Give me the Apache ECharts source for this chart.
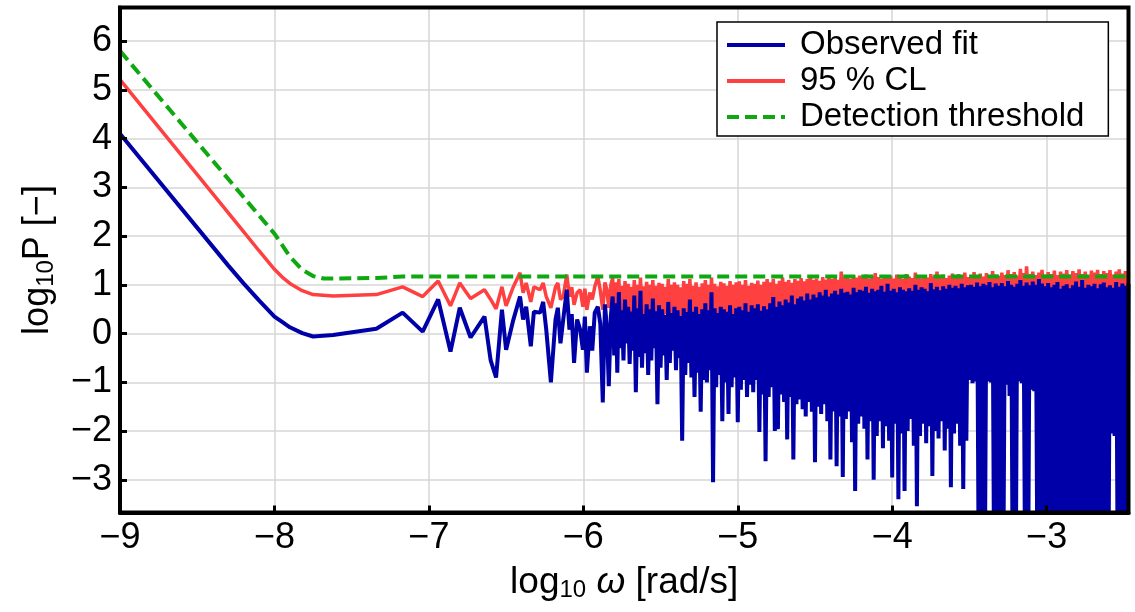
<!DOCTYPE html>
<html>
<head>
<meta charset="utf-8">
<script src="https://cdn.jsdelivr.net/npm/echarts@6.0.0/dist/echarts.min.js"></script>
<style>
  html, body { margin: 0; padding: 0; background: #fff; }
  #chart { width: 1135px; height: 612px; }
</style>
</head>
<body>
<div id="chart"></div>
<script>
// log10 omega for the sparse low-frequency part (shared by fit and CL)
var omegaSparse = [
  -9.00, -8.30, -8.20, -8.10, -8.00, -7.95, -7.90, -7.82, -7.75, -7.62, -7.34,
  -7.17, -7.04, -6.94, -6.86, -6.80, -6.73, -6.64, -6.60, -6.565, -6.527,
  -6.50, -6.456, -6.41, -6.39, -6.37, -6.34, -6.32, -6.28, -6.26, -6.24,
  -6.21, -6.18, -6.165, -6.148, -6.13, -6.107, -6.09, -6.075, -6.06, -6.04,
  -6.02, -6.003, -5.99, -5.977, -5.958, -5.942, -5.926, -5.906, -5.89, -5.874,
  -5.86, -5.848, -5.835, -5.822, -5.81
];
var fitSparse = [
  4.10, 1.40, 1.03, 0.68, 0.35, 0.24, 0.13, 0.01, -0.06, -0.03, 0.10,
  0.43, 0.04, 0.70, -0.37, 0.53, -0.08, 0.35, -0.55, -0.90, 0.49,
  -0.33, 0.25, 0.76, 0.29, 0.55, -0.26, 0.45, 0.43, 0.65, 0.08,
  -1.00, 0.29, 0.53, -0.20, 0.29, 0.90, 0.08, 0.40, -0.60, 0.29,
  0.08, -0.33, 0.35, -0.80, 0.15, -0.35, 0.43, 0.55, 0.20, -1.41,
  0.60, 0.15, -1.08, 0.35, 0.76
];
var clSparse = [
  5.21, 2.48, 2.09, 1.70, 1.32, 1.16, 1.03, 0.88, 0.80, 0.77, 0.80,
  0.96, 0.76, 1.08, 0.57, 1.04, 0.72, 0.90, 0.70, 0.51, 0.96,
  0.57, 0.94, 1.25, 0.84, 1.04, 0.65, 0.96, 0.90, 1.04, 0.76,
  0.53, 0.96, 1.04, 0.70, 0.76, 1.21, 0.76, 0.95, 0.59, 0.84,
  0.90, 0.55, 0.92, 0.49, 0.84, 0.70, 0.96, 1.17, 0.88, 0.49,
  1.05, 0.90, 0.53, 1.00, 1.14
];

// dense high-frequency part
var omegaDense = [
  -5.80,-5.79,-5.78,-5.77,-5.76,-5.75,-5.74,-5.73,-5.72,-5.71,
  -5.70,-5.69,-5.68,-5.67,-5.66,-5.65,-5.64,-5.63,-5.62,-5.61,
  -5.60,-5.59,-5.58,-5.57,-5.56,-5.55,-5.54,-5.53,-5.52,-5.51,
  -5.50,-5.49,-5.48,-5.47,-5.46,-5.45,-5.44,-5.43,-5.42,-5.41,
  -5.40,-5.39,-5.38,-5.37,-5.36,-5.35,-5.34,-5.33,-5.32,-5.31,
  -5.30,-5.29,-5.28,-5.27,-5.26,-5.25,-5.24,-5.23,-5.22,-5.21,
  -5.20,-5.19,-5.18,-5.17,-5.16,-5.15,-5.14,-5.13,-5.12,-5.11,
  -5.10,-5.09,-5.08,-5.07,-5.06,-5.05,-5.04,-5.03,-5.02,-5.01,
  -5.00,-4.99,-4.98,-4.97,-4.96,-4.95,-4.94,-4.93,-4.92,-4.91,
  -4.90,-4.89,-4.88,-4.87,-4.86,-4.85,-4.84,-4.83,-4.82,-4.81,
  -4.80,-4.79,-4.78,-4.77,-4.76,-4.75,-4.74,-4.73,-4.72,-4.71,
  -4.70,-4.69,-4.68,-4.67,-4.66,-4.65,-4.64,-4.63,-4.62,-4.61,
  -4.60,-4.59,-4.58,-4.57,-4.56,-4.55,-4.54,-4.53,-4.52,-4.51,
  -4.50,-4.49,-4.48,-4.47,-4.46,-4.45,-4.44,-4.43,-4.42,-4.41,
  -4.40,-4.39,-4.38,-4.37,-4.36,-4.35,-4.34,-4.33,-4.32,-4.31,
  -4.30,-4.29,-4.28,-4.27,-4.26,-4.25,-4.24,-4.23,-4.22,-4.21,
  -4.20,-4.19,-4.18,-4.17,-4.16,-4.15,-4.14,-4.13,-4.12,-4.11,
  -4.10,-4.09,-4.08,-4.07,-4.06,-4.05,-4.04,-4.03,-4.02,-4.01,
  -4.00,-3.99,-3.98,-3.97,-3.96,-3.95,-3.94,-3.93,-3.92,-3.91,
  -3.90,-3.89,-3.88,-3.87,-3.86,-3.85,-3.84,-3.83,-3.82,-3.81,
  -3.80,-3.79,-3.78,-3.77,-3.76,-3.75,-3.74,-3.73,-3.72,-3.71,
  -3.70,-3.69,-3.68,-3.67,-3.66,-3.65,-3.64,-3.63,-3.62,-3.61,
  -3.60,-3.59,-3.58,-3.57,-3.56,-3.55,-3.54,-3.53,-3.52,-3.51,
  -3.50,-3.49,-3.48,-3.47,-3.46,-3.45,-3.44,-3.43,-3.42,-3.41,
  -3.40,-3.39,-3.38,-3.37,-3.36,-3.35,-3.34,-3.33,-3.32,-3.31,
  -3.30,-3.29,-3.28,-3.27,-3.26,-3.25,-3.24,-3.23,-3.22,-3.21,
  -3.20,-3.19,-3.18,-3.17,-3.16,-3.15,-3.14,-3.13,-3.12,-3.11,
  -3.10,-3.09,-3.08,-3.07,-3.06,-3.05,-3.04,-3.03,-3.02,-3.01,
  -3.00,-2.99,-2.98,-2.97,-2.96,-2.95,-2.94,-2.93,-2.92,-2.91,
  -2.90,-2.89,-2.88,-2.87,-2.86,-2.85,-2.84,-2.83,-2.82,-2.81,
  -2.80,-2.79,-2.78,-2.77,-2.76,-2.75,-2.74,-2.73,-2.72,-2.71,
  -2.70,-2.69,-2.68,-2.67,-2.66,-2.65,-2.64,-2.63,-2.62,-2.61,
  -2.60,-2.59,-2.58,-2.57,-2.56,-2.55,-2.54,-2.53,-2.52,-2.51,
  -2.50,-2.49,-2.48,-2.47
];
var fitDense = [
  -0.45, 0.62, -0.80, 0.85, -0.30, 0.48, -0.55, 0.70, -0.20, 0.55,
  -0.62, 0.45, -0.35, 0.78, -1.20, 0.52, -0.48, 0.88, -0.70, 0.40,
  -0.40, 0.60, -0.85, 0.50, -0.55, 0.72, -0.30, 0.46, -1.45, 0.58,
  -0.70, 0.50, -0.45, 0.38, -0.95, 0.65, -0.60, 0.42, -0.35, 0.55,
  -0.75, 0.48, -0.50, 0.36, -2.20, 0.52, -0.85, 0.44, -0.60, 0.70,
  -0.90, 0.45, -1.30, 0.55, -0.80, 0.40, -1.60, 0.50, -0.95, 0.62,
  -1.00, 0.48, -0.75, 0.85, -3.05, 0.52, -1.10, 0.42, -0.85, 0.55,
  -1.80, 0.50, -1.00, 0.45, -1.65, 0.58, -1.10, 0.40, -0.90, 0.52,
  -1.82, 0.55, -1.15, 0.48, -0.95, 0.62, -1.30, 0.45, -1.05, 0.58,
  -1.20, 0.52, -0.95, 0.60, -2.02, 0.47, -1.25, 0.56, -2.62, 0.50,
  -1.30, 0.62, -1.10, 0.75, -2.00, 0.55, -1.96, 0.66, -1.25, 0.58,
  -1.40, 0.70, -2.17, 0.64, -1.30, 0.78, -2.58, 0.60, -1.45, 0.72,
  -1.35, 0.76, -1.55, 0.68, -1.70, 0.82, -1.40, 0.70, -1.60, 0.80,
  -2.64, 0.74, -1.50, 0.85, -1.65, 0.78, -1.45, 0.90, -1.80, 0.76,
  -2.58, 0.82, -1.60, 0.88, -2.72, 0.80, -1.70, 0.92, -2.94, 0.84,
  -1.75, 0.86, -1.60, 0.80, -2.23, 0.94, -3.23, 0.85, -1.85, 0.90,
  -1.70, 0.88, -1.95, 0.96, -2.58, 0.84, -1.80, 0.92, -3.00, 0.87,
  -2.10, 0.90, -1.80, 0.98, -2.35, 0.86, -1.90, 1.02, -2.20, 0.88,
  -2.95, 0.92, -1.85, 0.85, -3.40, 0.95, -2.05, 0.90, -3.23, 0.87,
  -2.00, 0.93, -1.75, 0.88, -2.30, 1.00, -3.54, 0.90, -2.10, 0.95,
  -1.85, 0.92, -2.25, 0.87, -1.90, 1.04, -2.92, 0.91, -2.00, 0.96,
  -2.15, 0.89, -1.80, 0.97, -2.40, 0.92, -1.95, 1.00, -3.15, 0.94,
  -2.05, 0.98, -1.85, 0.93, -2.30, 1.02, -3.19, 0.95, -2.20, 0.99,
  -0.95, 1.00, -1.02, 0.96, -0.98, 1.05, -4.80, 0.97, -5.20, 1.02,
  -4.90, 0.99, -0.98, 1.06, -1.00, 0.95, -5.10, 1.03, -4.60, 0.98,
  -5.30, 1.04, -4.70, 0.97, -1.05, 1.08, -1.28, 1.00, -4.90, 0.96,
  -5.00, 1.02, -0.98, 1.10, -1.02, 0.98, -4.80, 1.05, -5.20, 0.99,
  -1.15, 1.07, -1.18, 1.00, -4.90, 1.12, -5.40, 1.03, -4.70, 0.97,
  -5.10, 1.04, -4.80, 0.95, -5.30, 1.00, -4.60, 1.06, -5.00, 0.92,
  -4.90, 0.98, -5.20, 1.01, -4.70, 0.93, -5.10, 0.99, -4.80, 1.07,
  -5.30, 0.96, -4.90, 1.10, -5.00, 0.94, -4.70, 1.00, -5.20, 0.97,
  -4.80, 1.02, -5.10, 0.93, -4.60, 1.01, -5.00, 1.05, -4.90, 0.95,
  -5.20, 0.99, -2.05, 0.94, -2.10, 1.06, -4.80, 0.96, -5.00, 1.03,
  -4.90, 0.98, -5.10, 1.02
];
var clDense = [
  0.40, 1.05, 0.45, 1.12, 0.38, 0.98, 0.42, 1.08, 0.35, 1.02,
  0.40, 0.96, 0.44, 1.10, 0.36, 1.00, 0.42, 1.15, 0.38, 0.97,
  0.40, 1.06, 0.36, 1.00, 0.42, 1.10, 0.38, 0.98, 0.35, 1.04,
  0.38, 1.02, 0.36, 0.96, 0.40, 1.12, 0.37, 1.00, 0.34, 1.05,
  0.38, 1.00, 0.36, 0.95, 0.34, 1.08, 0.39, 1.02, 0.37, 1.12,
  0.40, 0.98, 0.36, 1.05, 0.38, 0.96, 0.35, 1.03, 0.40, 1.10,
  0.38, 1.00, 0.42, 1.15, 0.36, 1.02, 0.38, 0.97, 0.40, 1.06,
  0.36, 1.03, 0.40, 0.98, 0.38, 1.08, 0.35, 1.00, 0.40, 1.05,
  0.42, 1.07, 0.38, 1.00, 0.44, 1.10, 0.40, 0.98, 0.42, 1.04,
  0.45, 1.02, 0.42, 1.09, 0.46, 1.00, 0.44, 1.06, 0.48, 1.12,
  0.50, 1.05, 0.55, 1.12, 0.52, 1.02, 0.56, 1.08, 0.54, 1.15,
  0.58, 1.06, 0.55, 1.10, 0.60, 1.04, 0.57, 1.12, 0.60, 1.08,
  0.62, 1.14, 0.60, 1.07, 0.64, 1.12, 0.61, 1.18, 0.65, 1.10,
  0.64, 1.13, 0.66, 1.08, 0.63, 1.16, 0.67, 1.11, 0.65, 1.20,
  0.68, 1.12, 0.66, 1.17, 0.70, 1.10, 0.68, 1.27, 0.70, 1.14,
  0.70, 1.18, 0.72, 1.12, 0.70, 1.20, 0.73, 1.15, 0.71, 1.19,
  0.72, 1.14, 0.74, 1.21, 0.72, 1.13, 0.75, 1.18, 0.73, 1.24,
  0.74, 1.16, 0.75, 1.12, 0.73, 1.20, 0.76, 1.15, 0.74, 1.19,
  0.75, 1.13, 0.73, 1.21, 0.76, 1.16, 0.74, 1.12, 0.77, 1.22,
  0.75, 1.17, 0.77, 1.14, 0.74, 1.25, 0.76, 1.16, 0.78, 1.13,
  0.76, 1.20, 0.74, 1.15, 0.77, 1.22, 0.75, 1.17, 0.78, 1.27,
  0.76, 1.16, 0.78, 1.21, 0.75, 1.14, 0.77, 1.19, 0.79, 1.23,
  0.77, 1.15, 0.78, 1.22, 0.76, 1.18, 0.79, 1.25, 0.77, 1.16,
  0.78, 1.20, 0.80, 1.26, 0.77, 1.18, 0.81, 1.23, 0.79, 1.17,
  0.80, 1.24, 0.78, 1.19, 0.81, 1.28, 0.79, 1.21, 0.82, 1.18,
  0.80, 1.25, 0.82, 1.20, 0.79, 1.30, 0.81, 1.22, 0.83, 1.26,
  0.81, 1.19, 0.80, 1.33, 0.82, 1.24, 0.80, 1.38, 0.83, 1.22,
  0.81, 1.27, 0.83, 1.20, 0.80, 1.25, 0.82, 1.31, 0.81, 1.21,
  0.83, 1.26, 0.81, 1.22, 0.84, 1.29, 0.82, 1.20, 0.83, 1.27,
  0.82, 1.23, 0.84, 1.30, 0.81, 1.21, 0.83, 1.28, 0.82, 1.24,
  0.84, 1.32, 0.82, 1.22, 0.85, 1.27, 0.83, 1.20, 0.84, 1.29,
  0.83, 1.25, 0.85, 1.31, 0.82, 1.22, 0.84, 1.28, 0.83, 1.24,
  0.85, 1.30, 0.83, 1.21, 0.84, 1.27, 0.82, 1.32, 0.85, 1.23,
  0.84, 1.28, 0.83, 1.25
];

var thresholdOmega = [-9.00, -8.00, -7.90, -7.82, -7.75, -7.68, -7.34, -7.17, -2.47];
var thresholdLevel = [5.80, 2.05, 1.58, 1.31, 1.18, 1.13, 1.14, 1.17, 1.17];

var FONT = '"Liberation Sans", Arial, Helvetica, sans-serif';
var BLUE = '#0000a8', RED = '#ff4040', GREEN = '#10a810';

function toPairs(xs, ys) {
  return xs.map(function (x, i) { return [x, ys[i]]; });
}
function minusSign(v) {
  return String(v).replace('-', '\u2212');
}

var omegaAll = omegaSparse.concat(omegaDense);
var fitAll = fitSparse.concat(fitDense);
var clAll = clSparse.concat(clDense);

var xMin = -9, xMax = -2.47;
var yMin = -3.67, yMax = 6.69;

var chart = echarts.init(document.getElementById('chart'));

var option = {
  animation: false,
  backgroundColor: '#fff',
  tooltip: { show: false },
  grid: {
    left: 120, right: 6.5, top: 7.5, bottom: 99.5,
    show: true, borderColor: '#000', borderWidth: 4, z: 5,
    backgroundColor: 'transparent',
    outerBoundsMode: 'none'
  },
  legend: {
    orient: 'vertical',
    left: 717, top: 22,
    padding: [5, 24, 1, 8],
    itemGap: 0, itemWidth: 58, itemHeight: 14,
    backgroundColor: '#fff', borderColor: '#000', borderWidth: 1.5,
    z: 8,
    itemStyle: { opacity: 0 },
    lineStyle: { width: 4 },
    textStyle: { fontFamily: FONT, fontSize: 33, color: '#000', lineHeight: 36, padding: [0, 0, 0, 10] },
    data: ['Observed fit', '95 % CL', 'Detection threshold']
  },
  xAxis: [
    {
      type: 'value', position: 'bottom', min: xMin, max: xMax, interval: 1, z: 6,
      axisLine: { show: true, onZero: false, lineStyle: { color: '#000', width: 4 } },
      axisTick: { show: true, inside: true, length: 7, lineStyle: { color: '#000', width: 3 } },
      axisLabel: { fontFamily: FONT, fontSize: 36, color: '#000', margin: 8, showMaxLabel: false, formatter: minusSign },
      splitLine: { show: false },
      name: '{t|log}{s|10}{t| }{w|\u03c9}{t| [rad/s]}',
      nameLocation: 'middle', nameGap: 50,
      nameTextStyle: {
        fontFamily: FONT, fontSize: 37, color: '#000',
        rich: {
          t: { fontFamily: FONT, fontSize: 37, lineHeight: 40, color: '#000' },
          s: { fontFamily: FONT, fontSize: 24, lineHeight: 24, verticalAlign: 'bottom', color: '#000' },
          w: { fontFamily: FONT, fontSize: 37, lineHeight: 40, fontStyle: 'italic', color: '#000' }
        }
      }
    },
    {
      type: 'value', position: 'top', min: xMin, max: xMax, interval: 1, z: 0,
      axisLine: { show: false }, axisTick: { show: false }, axisLabel: { show: false },
      splitLine: { show: true, lineStyle: { color: '#d6d6d6', width: 1.5 } }
    }
  ],
  yAxis: [
    {
      type: 'value', position: 'left', min: yMin, max: yMax,
      splitNumber: 10, minInterval: 1, maxInterval: 1, z: 6,
      axisLine: { show: true, onZero: false, lineStyle: { color: '#000', width: 4 } },
      axisTick: { show: true, inside: true, length: 7, lineStyle: { color: '#000', width: 3 } },
      axisLabel: { fontFamily: FONT, fontSize: 36, color: '#000', margin: 8, showMinLabel: false, showMaxLabel: false, formatter: minusSign },
      splitLine: { show: false },
      name: '{t|log}{s|10}{t|P [\u2212]}',
      nameLocation: 'middle', nameGap: 62, nameRotate: 90,
      nameTextStyle: {
        fontFamily: FONT, fontSize: 36, color: '#000',
        rich: {
          t: { fontFamily: FONT, fontSize: 36, lineHeight: 40, color: '#000' },
          s: { fontFamily: FONT, fontSize: 24, lineHeight: 24, verticalAlign: 'bottom', color: '#000' }
        }
      }
    },
    {
      type: 'value', position: 'right', min: yMin, max: yMax,
      splitNumber: 10, minInterval: 1, maxInterval: 1, z: 0,
      axisLine: { show: false }, axisTick: { show: false }, axisLabel: { show: false },
      splitLine: { show: true, lineStyle: { color: '#d6d6d6', width: 1.5 } }
    }
  ],
  series: [
    {
      name: '95 % CL', type: 'line', xAxisIndex: 0, yAxisIndex: 0,
      data: toPairs(omegaAll, clAll),
      symbol: 'none', showSymbol: false, silent: true, z: 2,
      lineStyle: { color: RED, width: 3.5 }, itemStyle: { color: RED }
    },
    {
      name: 'Observed fit', type: 'line', xAxisIndex: 0, yAxisIndex: 0,
      data: toPairs(omegaAll, fitAll),
      symbol: 'none', showSymbol: false, silent: true, z: 3,
      lineStyle: { color: BLUE, width: 4 }, itemStyle: { color: BLUE }
    },
    {
      name: 'Detection threshold', type: 'line', xAxisIndex: 0, yAxisIndex: 0,
      data: toPairs(thresholdOmega, thresholdLevel),
      symbol: 'none', showSymbol: false, silent: true, z: 4,
      lineStyle: { color: GREEN, width: 4, type: [12, 6] }, itemStyle: { color: GREEN }
    }
  ]
};

chart.setOption(option);
</script>
</body>
</html>
